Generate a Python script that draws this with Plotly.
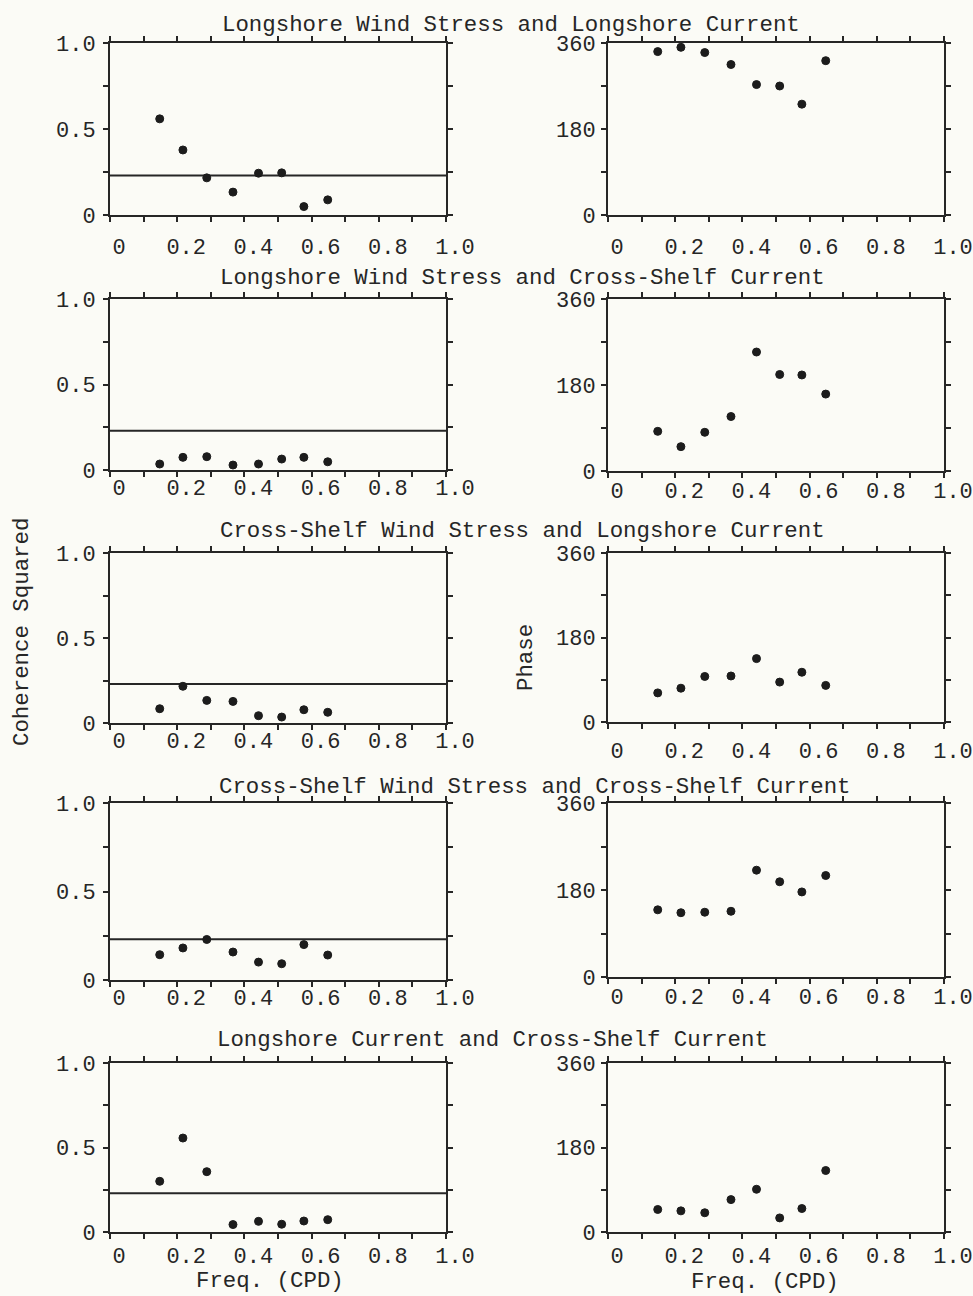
import plotly.graph_objects as go

# ---------------- data ----------------
FREQ = [0.148, 0.217, 0.288, 0.366, 0.442, 0.511, 0.577, 0.648]

PANEL_TITLES = [
    "Longshore Wind Stress and Longshore Current",
    "Longshore Wind Stress and Cross-Shelf Current",
    "Cross-Shelf Wind Stress and Longshore Current",
    "Cross-Shelf Wind Stress and Cross-Shelf Current",
    "Longshore Current and Cross-Shelf Current",
]

COH_1 = [0.559, 0.378, 0.216, 0.133, 0.243, 0.245, 0.049, 0.088]
PHASE_1 = [342, 351, 340, 315, 273, 270, 232, 323]
COH_2 = [0.035, 0.074, 0.078, 0.029, 0.035, 0.064, 0.074, 0.048]
PHASE_2 = [83, 51, 81, 114, 249, 202, 201, 161]
COH_3 = [0.084, 0.216, 0.133, 0.127, 0.043, 0.035, 0.078, 0.063]
PHASE_3 = [62, 72, 97, 98, 135, 85, 106, 78]
COH_4 = [0.143, 0.181, 0.229, 0.158, 0.101, 0.092, 0.200, 0.141]
PHASE_4 = [139, 133, 134, 136, 221, 197, 176, 210]
COH_5 = [0.300, 0.556, 0.357, 0.044, 0.063, 0.046, 0.065, 0.073]
PHASE_5 = [48, 45, 41, 69, 91, 30, 50, 131]

SIG_LEVEL = 0.23
FREQ_RANGE = [0.0, 1.0]

X_TICK_VALS = [0.0, 0.1, 0.2, 0.3, 0.4, 0.5, 0.6, 0.7, 0.8, 0.9, 1.0]
X_TICK_TEXT = ["0", "", "0.2", "", "0.4", "", "0.6", "", "0.8", "", "1.0"]
COH_TICK_VALS = [0.0, 0.25, 0.5, 0.75, 1.0]
COH_TICK_TEXT = ["0", "", "0.5", "", "1.0"]
PHASE_TICK_VALS = [0, 90, 180, 270, 360]
PHASE_TICK_TEXT = ["0", "", "180", "", "360"]

COH_LABEL = "Coherence Squared"
PHASE_LABEL = "Phase"
FREQ_LABEL = "Freq. (CPD)"

COH = [COH_1, COH_2, COH_3, COH_4, COH_5]
PHASE = [PHASE_1, PHASE_2, PHASE_3, PHASE_4, PHASE_5]

# ---------------- layout geometry (pixels) ----------------
W, H = 973, 1296
FONT = "Liberation Mono, Courier New, monospace"
INK = "#262626"
BG = "#fbfbf6"
FS = 22.4      # titles / axis labels
TFS = 22       # tick labels

LEFT_X = (110, 446)
RIGHT_X = (608, 944)
LEFT_ROWS = [(43, 215), (299, 470), (553, 723), (803, 980), (1063, 1232)]
RIGHT_ROWS = [(43, 215), (299, 471), (553, 722), (803, 977), (1063, 1232)]
LEFT_XLAB_OFF = [6, -8, -8, -8, -2]
RIGHT_XLAB_OFF = [6, -6, 3, -6, -2]
TITLE_POS = [(511, 25), (522, 278), (522, 531), (535, 787), (492, 1040)]


def fx(p):
    return p / W


def fy(p):
    return 1 - p / H


fig = go.Figure()
layout = dict(
    template="none",
    width=W, height=H,
    margin=dict(l=0, r=0, t=0, b=0, pad=0, autoexpand=False),
    paper_bgcolor=BG, plot_bgcolor=BG,
    showlegend=False,
    font=dict(family=FONT, size=FS, color=INK),
)

annotations = []

for r in range(5):
    for c in range(2):
        i = r * 2 + c + 1
        xs = LEFT_X if c == 0 else RIGHT_X
        ys = LEFT_ROWS[r] if c == 0 else RIGHT_ROWS[r]
        xname, yname = f"x{i}", f"y{i}"
        xkey = "xaxis" if i == 1 else f"xaxis{i}"
        ykey = "yaxis" if i == 1 else f"yaxis{i}"
        if c == 0:
            yvals, yrange = COH_TICK_VALS, [0, 1.0]
            ytext = COH_TICK_TEXT
            data = COH[r]
        else:
            yvals, yrange = PHASE_TICK_VALS, [0, 360]
            ytext = PHASE_TICK_TEXT
            data = PHASE[r]
        xoff = LEFT_XLAB_OFF[r] if c == 0 else RIGHT_XLAB_OFF[r]

        common = dict(
            automargin=False,
            showgrid=False, zeroline=False, showline=True, linecolor=INK,
            linewidth=2, mirror="ticks", ticks="outside", ticklen=5,
            tickwidth=2, tickcolor=INK,
            tickfont=dict(family=FONT, size=TFS, color=INK),
        )
        layout[xkey] = dict(
            common, domain=[fx(xs[0]), fx(xs[1])], range=FREQ_RANGE,
            anchor=yname, tickvals=X_TICK_VALS, ticktext=X_TICK_TEXT,
            ticklabelshift=9, ticklabelstandoff=xoff,
        )
        layout[ykey] = dict(
            common, domain=[fy(ys[1]), fy(ys[0])], range=yrange,
            anchor=xname, tickvals=yvals, ticktext=ytext,
            ticklabelstandoff=3 if c == 0 else 1,
        )
        # overlay axes provide the inward half of the crossing ticks
        j = i + 10
        layout[f"xaxis{j}"] = dict(
            automargin=False,
            overlaying=xname, anchor=yname, range=FREQ_RANGE,
            tickvals=X_TICK_VALS, showticklabels=False, showgrid=False,
            zeroline=False, showline=False, ticks="inside", ticklen=5,
            tickwidth=2, tickcolor=INK, mirror="ticks",
        )
        layout[f"yaxis{j}"] = dict(
            automargin=False,
            overlaying=yname, anchor=xname, range=yrange,
            tickvals=yvals, showticklabels=False, showgrid=False,
            zeroline=False, showline=False, ticks="inside", ticklen=6,
            tickwidth=2, tickcolor=INK, mirror="ticks",
        )

        if c == 0:
            fig.add_trace(go.Scatter(
                x=FREQ_RANGE, y=[SIG_LEVEL, SIG_LEVEL], mode="lines",
                line=dict(color=INK, width=2), xaxis=xname, yaxis=yname,
                hoverinfo="skip",
            ))
        fig.add_trace(go.Scatter(
            x=FREQ, y=data, mode="markers",
            marker=dict(size=8, color="#1c1c1c",
                        line=dict(color="#1c1c1c", width=1)),
            xaxis=xname, yaxis=yname, cliponaxis=False,
        ))

    tx, ty = TITLE_POS[r]
    annotations.append(dict(
        text=PANEL_TITLES[r], x=fx(tx), y=fy(ty), xref="paper", yref="paper",
        xanchor="center", yanchor="middle", showarrow=False,
        font=dict(family=FONT, size=FS, color=INK),
    ))

annotations += [
    dict(text=COH_LABEL, x=fx(22), y=fy(632), xref="paper", yref="paper",
         textangle=-90, showarrow=False, xanchor="center", yanchor="middle",
         font=dict(family=FONT, size=FS, color=INK)),
    dict(text=PHASE_LABEL, x=fx(526), y=fy(658), xref="paper", yref="paper",
         textangle=-90, showarrow=False, xanchor="center", yanchor="middle",
         font=dict(family=FONT, size=FS, color=INK)),
    dict(text=FREQ_LABEL, x=fx(270), y=fy(1281), xref="paper", yref="paper",
         showarrow=False, xanchor="center", yanchor="middle",
         font=dict(family=FONT, size=FS, color=INK)),
    dict(text=FREQ_LABEL, x=fx(765), y=fy(1282), xref="paper", yref="paper",
         showarrow=False, xanchor="center", yanchor="middle",
         font=dict(family=FONT, size=FS, color=INK)),
]
layout["annotations"] = annotations

fig.update_layout(**layout)
fig.write_html("out.html")
